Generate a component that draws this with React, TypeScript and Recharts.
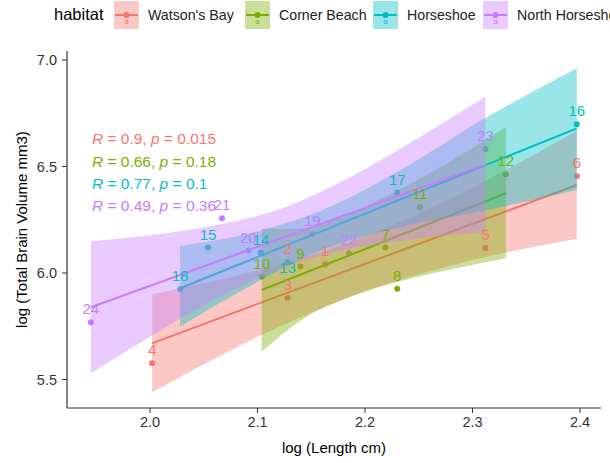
import React from "react";
import { ComposedChart, Area, Line, Scatter, XAxis, YAxis } from "recharts";

const habitats = ["Watson's Bay", "Corner Beach", "Horseshoe", "North Horseshoe"];
const colors = ["#F8766D", "#7CAE00", "#00BFC4", "#C77CFF"];

const xTicks = [2.0, 2.1, 2.2, 2.3, 2.4];
const yTicks = [5.5, 6.0, 6.5, 7.0];
const xDomain = [1.9228, 2.4195];
const yDomain = [5.366, 7.042];

// fish id, log length, log brain volume
const watsonsBay = [
  { id: 1, x: 2.163, y: 6.041 },
  { id: 2, x: 2.128, y: 6.05 },
  { id: 3, x: 2.128, y: 5.884 },
  { id: 4, x: 2.002, y: 5.576 },
  { id: 5, x: 2.312, y: 6.117 },
  { id: 6, x: 2.397, y: 6.454 },
];
const cornerBeach = [
  { id: 7, x: 2.219, y: 6.119 },
  { id: 8, x: 2.23, y: 5.926 },
  { id: 9, x: 2.14, y: 6.03 },
  { id: 10, x: 2.104, y: 5.983 },
  { id: 11, x: 2.251, y: 6.308 },
  { id: 12, x: 2.331, y: 6.463 },
];
const horseshoe = [
  { id: 13, x: 2.128, y: 6.05 },
  { id: 14, x: 2.103, y: 6.095 },
  { id: 15, x: 2.054, y: 6.119 },
  { id: 16, x: 2.397, y: 6.698 },
  { id: 17, x: 2.23, y: 6.376 },
  { id: 18, x: 2.028, y: 5.923 },
];
const northHorseshoe = [
  { id: 19, x: 2.151, y: 6.182 },
  { id: 20, x: 2.0915, y: 6.105 },
  { id: 21, x: 2.067, y: 6.257 },
  { id: 22, x: 2.185, y: 6.092 },
  { id: 23, x: 2.312, y: 6.582 },
  { id: 24, x: 1.945, y: 5.769 },
];

// fitted lm lines
const watsonsFit = [{ x: 2.002, y: 5.67 }, { x: 2.397, y: 6.413 }];
const cornerFit = [{ x: 2.104, y: 5.92 }, { x: 2.331, y: 6.374 }];
const horseshoeFit = [{ x: 2.028, y: 5.928 }, { x: 2.397, y: 6.679 }];
const northFit = [{ x: 1.945, y: 5.839 }, { x: 2.312, y: 6.51 }];

// 95% confidence bands [lower, upper]
const watsonsBand = [
  { x: 2.002, band: [5.44, 5.9] },
  { x: 2.093, band: [5.682, 6.002] },
  { x: 2.188, band: [5.893, 6.147] },
  { x: 2.279, band: [6.034, 6.349] },
  { x: 2.397, band: [6.16, 6.667] },
];
const cornerBand = [
  { x: 2.104, band: [5.63, 6.207] },
  { x: 2.14, band: [5.776, 6.208] },
  { x: 2.186, band: [5.887, 6.282] },
  { x: 2.233, band: [5.961, 6.393] },
  { x: 2.279, band: [6.016, 6.523] },
  { x: 2.331, band: [6.069, 6.684] },
];
const horseshoeBand = [
  { x: 2.028, band: [5.748, 6.127] },
  { x: 2.093, band: [5.939, 6.186] },
  { x: 2.156, band: [6.099, 6.286] },
  { x: 2.233, band: [6.214, 6.483] },
  { x: 2.307, band: [6.288, 6.713] },
  { x: 2.397, band: [6.39, 6.961] },
];
const northBand = [
  { x: 1.945, band: [5.529, 6.149] },
  { x: 2.0, band: [5.701, 6.177] },
  { x: 2.065, band: [5.89, 6.227] },
  { x: 2.126, band: [6.029, 6.31] },
  { x: 2.186, band: [6.112, 6.449] },
  { x: 2.251, band: [6.162, 6.638] },
  { x: 2.312, band: [6.193, 6.828] },
];

const corR = ["0.9", "0.66", "0.77", "0.49"];
const corP = ["0.015", "0.18", "0.1", "0.36"];
const corY = [6.629, 6.522, 6.418, 6.316];
const corX = 1.946;

const points = [watsonsBay, cornerBeach, horseshoe, northHorseshoe];
const fits = [watsonsFit, cornerFit, horseshoeFit, northFit];
const bands = [watsonsBand, cornerBand, horseshoeBand, northBand];

const font = "'Liberation Sans', Arial, sans-serif";
const axisColor = "#333";

// legend layout (px)
const keyLeft = [114, 245, 373, 483];

const corData = corY.map((y, i) => ({ x: corX, y, r: corR[i], p: corP[i], color: colors[i] }));

function dotShape(color: string) {
  return (p: any) => <circle cx={p.cx} cy={p.cy} r={3} fill={color} />;
}

function labelShape(color: string) {
  return (p: any) => {
    const dy = p.payload.id === 13 ? 11 : -8;
    return (
      <text x={p.cx} y={p.cy + dy} textAnchor="middle" fontSize={15} fontFamily={font} fill={color}>
        {p.payload.id}
      </text>
    );
  };
}

function corShape(p: any) {
  const d = p.payload;
  return (
    <text x={p.cx} y={p.cy} dy="0.35em" fontSize={15.5} fontFamily={font} fill={d.color}>
      <tspan fontStyle="italic">R</tspan>
      {` = ${d.r}, `}
      <tspan fontStyle="italic">p</tspan>
      {` = ${d.p}`}
    </text>
  );
}

function LegendKey({ color }: { color: string }) {
  return (
    <svg width={25} height={28} style={{ display: "block" }}>
      <rect width={25} height={28} fill={color} fillOpacity={0.4} />
      <line x1={1} x2={24} y1={14} y2={14} stroke={color} strokeWidth={2} />
      <circle cx={12.5} cy={14} r={3} fill={color} />
      <text x={12.5} y={23} fontSize={8} textAnchor="middle" fontFamily={font} fill={color}>
        a
      </text>
    </svg>
  );
}

export default function App() {
  return (
    <div style={{ position: "absolute", left: 0, top: 0, width: 610, height: 463, background: "#fff", fontFamily: font, overflow: "hidden" }}>
      <div style={{ position: "absolute", left: 0, top: 1, width: 610, height: 28, whiteSpace: "nowrap" }}>
        <span style={{ position: "absolute", left: 54, top: 4, fontSize: 16.5, color: "#000" }}>habitat</span>
        {habitats.map((h, i) => (
          <React.Fragment key={h}>
            <div style={{ position: "absolute", left: keyLeft[i], top: 0 }}>
              <LegendKey color={colors[i]} />
            </div>
            <span style={{ position: "absolute", left: keyLeft[i] + 34, top: 6, fontSize: 14.2, color: "#222" }}>{h}</span>
          </React.Fragment>
        ))}
      </div>
      <ComposedChart width={610} height={463} margin={{ top: 51, right: 9, bottom: 0, left: 0 }}>
        <XAxis
          dataKey="x"
          type="number"
          domain={xDomain}
          ticks={xTicks}
          allowDataOverflow
          height={55}
          tickSize={5}
          tickMargin={4}
          tickFormatter={(v: number) => v.toFixed(1)}
          axisLine={{ stroke: axisColor, strokeWidth: 1.2 }}
          tickLine={{ stroke: axisColor }}
          tick={{ fill: axisColor, fontSize: 14.5, fontFamily: font }}
          label={{ value: "log (Length cm)", position: "insideBottom", offset: 10, fill: "#000", fontSize: 15, fontFamily: font }}
        />
        <YAxis
          type="number"
          domain={yDomain}
          ticks={yTicks}
          allowDataOverflow
          width={67}
          tickSize={5}
          tickMargin={5}
          tickFormatter={(v: number) => v.toFixed(1)}
          axisLine={{ stroke: axisColor, strokeWidth: 1.2 }}
          tickLine={{ stroke: axisColor }}
          tick={{ fill: axisColor, fontSize: 14.5, fontFamily: font }}
          label={{ value: "log (Total Brain Volume mm3)", angle: -90, position: "insideLeft", offset: 22, fill: "#000", fontSize: 15, fontFamily: font, style: { textAnchor: "middle" } }}
        />
        <XAxis xAxisId="top" orientation="top" type="number" domain={xDomain} allowDataOverflow height={0} tick={false} tickLine={false} axisLine={{ stroke: axisColor, strokeWidth: 1.2 }} />
        <YAxis yAxisId="right" orientation="right" type="number" domain={yDomain} allowDataOverflow width={0} tick={false} tickLine={false} axisLine={{ stroke: axisColor, strokeWidth: 1.2 }} />

        {points.map((pts, i) => (
          <Scatter key={`pt${i}`} data={pts} dataKey="y" shape={dotShape(colors[i])} isAnimationActive={false} zIndex={50} />
        ))}

        {bands.map((b, i) => [
          <Area
            key={`band${i}`}
            data={b}
            dataKey="band"
            type="monotone"
            stroke="none"
            fill={colors[i]}
            fillOpacity={0.4}
            isAnimationActive={false}
            zIndex={100 + i * 2}
          />,
          <Line
            key={`fit${i}`}
            data={fits[i]}
            dataKey="y"
            type="linear"
            stroke={colors[i]}
            strokeWidth={2}
            dot={false}
            isAnimationActive={false}
            zIndex={101 + i * 2}
          />,
        ])}

        {points.map((pts, i) => (
          <Scatter key={`lab${i}`} data={pts} dataKey="y" shape={labelShape(colors[i])} isAnimationActive={false} zIndex={500} />
        ))}
        <Scatter data={corData} dataKey="y" shape={corShape} isAnimationActive={false} zIndex={500} />
      </ComposedChart>
    </div>
  );
}
